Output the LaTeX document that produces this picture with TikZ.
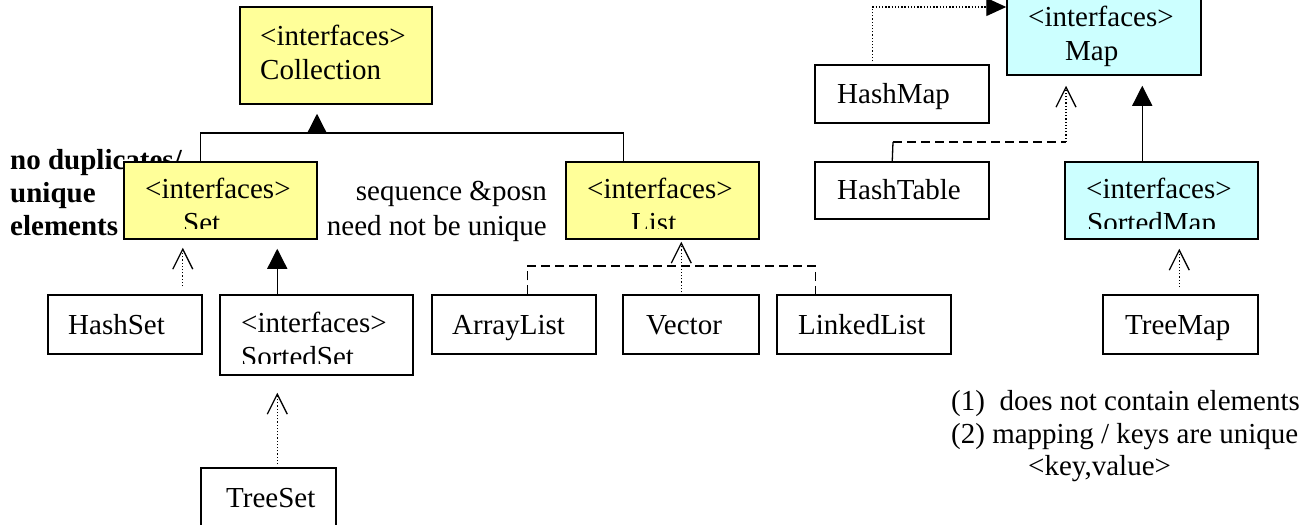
\documentclass[tikz,border=0pt]{standalone}
\usepackage{fontspec}
\setmainfont{Liberation Serif}
\usetikzlibrary{arrows.meta}
\definecolor{ifyellow}{HTML}{FFFF99}
\definecolor{ifcyan}{HTML}{CCFFFF}
\tikzset{
  umlbox/.style={draw=black, line width=1.5pt, inner sep=0pt, rectangle},
  ifaceY/.style={umlbox, fill=ifyellow},
  ifaceC/.style={umlbox, fill=ifcyan},
  cls/.style={umlbox, fill=white},
  lbl/.style={inner sep=0pt, anchor=base west, font=\fontsize{29}{34}\selectfont},
  lblr/.style={lbl, anchor=base east},
  conn/.style={line width=1.3pt, line cap=butt},
  realize/.style={conn, dash pattern=on 1.3pt off 1.9pt},
  dashline/.style={conn, dash pattern=on 9pt off 5pt},
  tri/.style={-{Triangle[length=20pt,width=20pt]}},
  tris/.style={-{Triangle[length=20pt,width=18pt]}},
  barb/.style={-{Straight Barb[length=20pt,width=20pt]}},
}
\begin{document}
\begin{tikzpicture}[x=1pt, y=-1pt]
\path[use as bounding box, clip] (0,0) rectangle (1310,525);

% side notes
\node[lbl, font=\fontsize{29}{34}\selectfont\bfseries] (n-nodup) at (10,169) {no duplicates/};
\node[lbl, font=\fontsize{29}{34}\selectfont\bfseries] (n-uniq) at (10,202) {unique};
\node[lbl, font=\fontsize{29}{34}\selectfont\bfseries] (n-elem) at (10,235) {elements};
\node[lblr] (n-seq) at (547,200) {sequence \&posn};
\node[lblr] (n-need) at (547,235) {need not be unique};
\node[lbl] (n-one) at (951,410) {(1)\ \ does not contain elements};
\node[lbl] (n-two) at (951,443) {(2) mapping / keys are unique};
\node[lbl] (n-kv) at (1028,475) {<key,value>};

% boxes
\node[ifaceY, minimum width=192pt, minimum height=97pt] (coll) at (336,55.5) {};
\node[ifaceY, minimum width=193pt, minimum height=77pt] (set) at (220.5,200.5) {};
\node[ifaceY, minimum width=193pt, minimum height=77pt] (list) at (662.5,200.5) {};
\node[cls, minimum width=154pt, minimum height=59pt] (hashset) at (125,324.5) {};
\node[cls, minimum width=193pt, minimum height=80pt] (sortedset) at (316.5,335) {};
\node[cls, minimum width=135pt, minimum height=80pt] (treeset) at (268.5,508) {};
\node[cls, minimum width=164pt, minimum height=59pt] (arraylist) at (514,324.5) {};
\node[cls, minimum width=136pt, minimum height=59pt] (vector) at (691,324.5) {};
\node[cls, minimum width=174pt, minimum height=59pt] (linkedlist) at (864,324.5) {};
\node[cls, minimum width=174pt, minimum height=58pt] (hashmap) at (902,94) {};
\node[cls, minimum width=174pt, minimum height=57pt] (hashtable) at (902,190.5) {};
\node[ifaceC, minimum width=194pt, minimum height=87pt] (map) at (1104,31.5) {};
\node[ifaceC, minimum width=193pt, minimum height=77pt] (sortedmap) at (1161.5,200.5) {};
\node[cls, minimum width=155pt, minimum height=59pt] (treemap) at (1180.5,324.5) {};

% box texts
\node[lbl] (t-coll-a) at (260,45) {<interfaces>};
\node[lbl] (t-coll-b) at (260,79) {Collection};
\begin{scope}
  \clip (set.north west) rectangle ([yshift=11pt]set.south east);
  \node[lbl] (t-set-a) at (145,198) {<interfaces>};
  \node[lbl] (t-set-b) at (183,232) {Set};
\end{scope}
\begin{scope}
  \clip (list.north west) rectangle ([yshift=11pt]list.south east);
  \node[lbl] (t-list-a) at (587,198) {<interfaces>};
  \node[lbl] (t-list-b) at (631,232) {List};
\end{scope}
\begin{scope}
  \clip (sortedset.north west) rectangle ([yshift=12pt]sortedset.south east);
  \node[lbl] (t-sset-a) at (241,332) {<interfaces>};
  \node[lbl] (t-sset-b) at (241,366) {SortedSet};
\end{scope}
\begin{scope}
  \clip (sortedmap.north west) rectangle ([yshift=11pt]sortedmap.south east);
  \node[lbl] (t-smap-a) at (1086,198) {<interfaces>};
  \node[lbl] (t-smap-b) at (1087,232) {SortedMap};
\end{scope}
\node[lbl] (t-map-a) at (1028,26) {<interfaces>};
\node[lbl] (t-map-b) at (1065,60) {Map};
\node[lbl] (t-hashset) at (68,334) {HashSet};
\node[lbl] (t-treeset) at (226,507) {TreeSet};
\node[lbl] (t-arraylist) at (452,334) {ArrayList};
\node[lbl] (t-vector) at (646,334) {Vector};
\node[lbl] (t-linkedlist) at (798,334) {LinkedList};
\node[lbl] (t-hashmap) at (837,103) {HashMap};
\node[lbl] (t-hashtable) at (837,199) {HashTable};
\node[lbl] (t-treemap) at (1125,334) {TreeMap};

% Set and List generalise Collection
\coordinate (jc) at (317,133);
\draw[conn] ([xshift=77pt]set.north west) |- (jc) -| ([xshift=58pt]list.north west);
\draw[conn, tri, shorten >=9pt] (jc) -- (jc |- coll.south);

% Set hierarchy
\coordinate (hs1) at ([xshift=-20pt]hashset.north east);
\draw[realize, barb, shorten >=8pt, shorten <=8pt] (hs1) -- (hs1 |- set.south);
\coordinate (ss1) at ([xshift=58pt]sortedset.north west);
\draw[conn, tri, shorten >=9pt] (ss1) -- (ss1 |- set.south);
\coordinate (ts1) at ([xshift=77pt]treeset.north west);
\draw[realize, barb, shorten >=17pt, shorten <=3pt] (ts1) -- (ts1 |- sortedset.south);

% List implementations
\coordinate (lv) at (682,266);
\draw[dashline] ([xshift=96pt]arraylist.north west) |- (lv) -| ([xshift=39pt]linkedlist.north west);
\coordinate (vec1) at ([xshift=59pt]vector.north west);
\draw[realize, barb, shorten >=2pt, shorten <=2pt] (vec1) -- (vec1 |- list.south);

% Map hierarchy
\coordinate (hm1) at ([xshift=58pt]hashmap.north west);
\coordinate (hmk) at (873,7);
\draw[realize, tris, shorten <=3pt] (hm1) |- (hmk -| map.west);
\coordinate (ht1) at ([xshift=78pt]hashtable.north west);
\coordinate (htk) at (893,142);
\coordinate (mk) at (1066,142);
\draw[conn] (ht1) -- (htk);
\draw[dashline] (htk) -- (mk);
\draw[realize, barb, shorten >=10pt] (mk) -- (mk |- map.south);
\coordinate (sm1) at ([xshift=78pt]sortedmap.north west);
\draw[conn, tri, shorten >=10pt] (sm1) -- (sm1 |- map.south);
\coordinate (tm1) at ([xshift=77pt]treemap.north west);
\draw[realize, barb, shorten >=9pt, shorten <=7pt] (tm1) -- (tm1 |- sortedmap.south);
\end{tikzpicture}
\end{document}
